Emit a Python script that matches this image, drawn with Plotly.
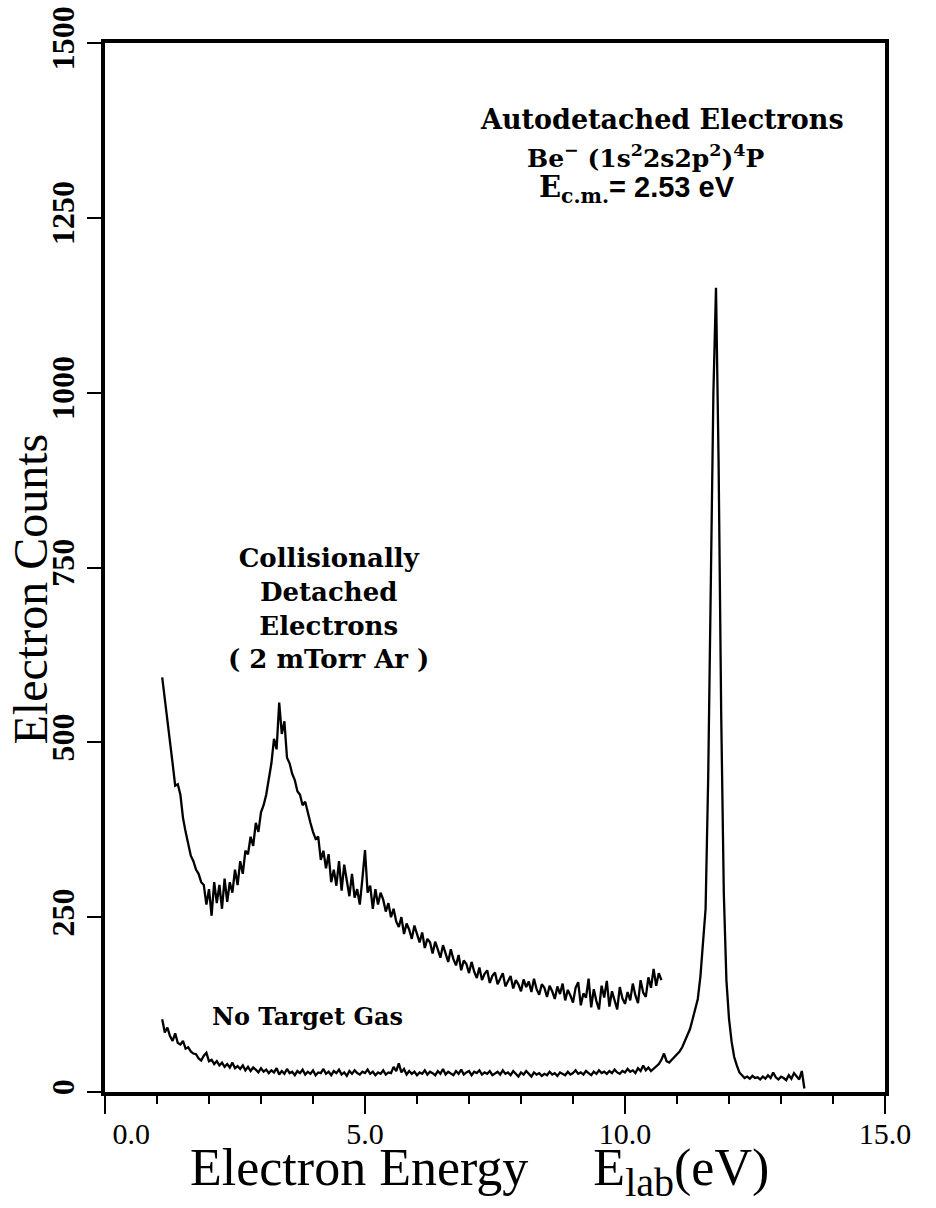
import numpy as np
import plotly.graph_objects as go

# Energy grid of the analyser channels (eV)
E_START = 1.10
E_STEP = 0.05

# Electron counts with 2 mTorr Ar in the collision cell (1.10 ... 10.70 eV)
ar_counts = [
    593, 560, 527, 495, 470, 438, 440, 425, 392, 372,
    356, 338, 330, 318, 312, 300, 296, 268, 290, 252,
    300, 270, 296, 262, 305, 272, 300, 285, 318, 296,
    330, 312, 345, 340, 365, 352, 385, 372, 400, 410,
    425, 445, 470, 505, 490, 557, 512, 530, 478, 470,
    455, 446, 430, 425, 410, 415, 398, 385, 372, 362,
    365, 332, 345, 320, 340, 300, 318, 295, 330, 288,
    325, 300, 280, 312, 278, 290, 268, 305, 346, 285,
    295, 262, 290, 268, 285, 275, 258, 270, 250, 262,
    244, 236, 250, 226, 241, 232, 219, 238, 224, 214,
    228, 206, 219, 214, 198, 215, 204, 192, 210, 199,
    186, 204, 190, 181, 196, 174, 188, 183, 170, 186,
    172, 163, 178, 160, 169, 174, 156, 166, 171, 154,
    163, 170, 151, 159, 166, 148, 160, 154, 144, 161,
    150, 158, 143, 162, 147, 139, 154, 149, 136, 152,
    144, 133, 151, 140, 155, 131, 146, 138, 128, 149,
    157, 124, 141, 135, 162, 121, 147, 130, 118, 152,
    135, 159, 122, 144, 129, 118, 150, 134, 126, 143,
    131, 155, 138, 127, 160, 142, 136, 164, 149, 176,
    152, 170, 160,
]

# Electron counts without target gas (1.10 ... 13.45 eV)
no_gas_counts = [
    104, 85, 92, 80, 73, 84, 70, 68, 73, 62,
    64, 58, 55, 54, 48, 45, 52, 56, 44, 46,
    40, 44, 38, 42, 36, 40, 35, 42, 34, 37,
    33, 38, 31, 36, 30, 35, 32, 28, 34, 29,
    32, 27, 31, 28, 34, 25, 30, 26, 33, 27,
    29, 24, 30, 27, 32, 25, 29, 26, 31, 24,
    28, 27, 33, 26, 29, 24, 30, 27, 32, 25,
    28, 23, 30, 26, 31, 27, 25, 29, 27, 32,
    26, 29, 24, 28, 26, 31, 25, 28, 27, 36,
    30, 41, 28, 33, 25, 30, 26, 29, 24, 28,
    26, 31, 25, 29, 27, 24, 30, 26, 33, 25,
    29, 27, 24, 30, 26, 32, 25, 28, 30, 24,
    29, 27, 31, 25, 28, 26, 30, 24, 27, 29,
    25, 31, 26, 28, 24, 30, 26, 22, 28, 25,
    30, 26, 22, 28, 25, 27, 23, 26, 24, 29,
    25, 27, 23, 28, 26, 24, 29, 25, 27, 31,
    26, 28, 25, 30, 27, 24, 29, 26, 31, 27,
    29, 26, 30, 27, 32, 28, 26, 30, 28, 33,
    29, 31, 27, 34, 30, 38, 31, 35, 30, 33,
    36, 40, 46, 55, 44, 42, 46, 50, 55, 58,
    64, 72, 80, 90, 104, 118, 133, 165, 210, 262,
    450, 720, 1000, 1150, 900, 540, 285, 160, 105, 72,
    50, 38, 28, 24, 20, 22, 19, 23, 20, 21,
    18, 22, 19, 24, 20, 28, 21, 18, 22, 20,
    17, 24, 19, 27, 22, 18, 30, 5,
]

NBSP = "\u00a0"

x_tick_vals = [0, 5, 10, 15]
# the first label sits a little to the right of its tick, clear of the y labels
x_tick_text = [NBSP * 7 + "0.0", "5.0", "10.0", "15.0"]
y_tick_vals = [0, 250, 500, 750, 1000, 1250, 1500]
y_tick_text = ["0", "250", "500", "750", "1000", "1250", "1500"]

energy_ar = np.round(E_START + E_STEP * np.arange(len(ar_counts)), 2)
energy_no_gas = np.round(E_START + E_STEP * np.arange(len(no_gas_counts)), 2)

SERIF = "Liberation Serif"
BOLD_SERIF = "DejaVu Serif"

fig = go.Figure()
fig.add_trace(go.Scatter(x=energy_ar, y=ar_counts, mode="lines",
                         line=dict(color="black", width=2.3), showlegend=False))
fig.add_trace(go.Scatter(x=energy_no_gas, y=no_gas_counts, mode="lines",
                         line=dict(color="black", width=2.3), showlegend=False))

label_font = dict(family=BOLD_SERIF, size=26, color="black", weight="bold")

fig.add_annotation(x=10.71, y=1391, xref="x", yref="y", showarrow=False,
                   xanchor="center", yanchor="middle",
                   text="Autodetached Electrons",
                   font=dict(family=BOLD_SERIF, size=27, color="black", weight="bold"))
fig.add_annotation(x=10.40, y=1337, xref="x", yref="y", showarrow=False,
                   xanchor="center", yanchor="middle",
                   text="Be<sup>\u2212</sup> (1s<sup>2</sup>2s2p<sup>2</sup>)<sup>4</sup>P",
                   font=dict(family=BOLD_SERIF, size=25, color="black", weight="bold"))
fig.add_annotation(x=10.23, y=1291, xref="x", yref="y", showarrow=False,
                   xanchor="center", yanchor="middle",
                   text="E<sub>c.m.</sub><span style=\"font-family:'Liberation Sans'\">= 2.53 eV</span>",
                   font=dict(family=BOLD_SERIF, size=29, color="black", weight="bold"))
fig.add_annotation(x=4.30, y=692, xref="x", yref="y", showarrow=False,
                   xanchor="center", yanchor="middle",
                   text="Collisionally<br>Detached<br>Electrons<br>( 2 mTorr Ar )",
                   align="center", font=label_font)
fig.add_annotation(x=3.9, y=108, xref="x", yref="y", showarrow=False,
                   xanchor="center", yanchor="middle",
                   text="No Target Gas",
                   font=dict(family=BOLD_SERIF, size=24, color="black", weight="bold"))

# axis titles
fig.add_annotation(x=-0.0949, y=0.48, xref="paper", yref="paper", showarrow=False,
                   xanchor="center", yanchor="middle",
                   text="Electron Counts", textangle=-90,
                   font=dict(family=SERIF, size=48, color="black"))
fig.add_annotation(x=0.48, y=-0.043, xref="paper", yref="paper", showarrow=False,
                   xanchor="center", yanchor="top",
                   text="Electron Energy" + NBSP * 5
                        + "E<sub><span style=\"font-size:40px\">lab</span></sub>(eV)",
                   font=dict(family=SERIF, size=52, color="black"))

fig.update_xaxes(
    range=[0, 15], tickvals=x_tick_vals, ticktext=x_tick_text,
    showline=True, linecolor="black", linewidth=4, mirror=True,
    ticks="outside", ticklen=18, tickwidth=2, tickcolor="black",
    ticklabelstandoff=-6,
    minor=dict(dtick=1, ticks="outside", ticklen=8, tickwidth=2, tickcolor="black"),
    showgrid=False, zeroline=False, automargin=False,
    tickfont=dict(family=SERIF, size=30, color="black"),
)
fig.update_yaxes(
    range=[0, 1500], tickvals=y_tick_vals, ticktext=y_tick_text,
    showline=True, linecolor="black", linewidth=4, mirror=True,
    ticks="outside", ticklen=14, tickwidth=2, tickcolor="black",
    showgrid=False, zeroline=False, tickangle=-90, automargin=False,
    tickfont=dict(family=SERIF, size=32, color="black", weight="bold"),
)

fig.update_layout(
    width=936, height=1208,
    margin=dict(l=105, r=51, t=43, b=116),
    paper_bgcolor="white", plot_bgcolor="white",
    showlegend=False,
)

fig.write_html("out.html")
